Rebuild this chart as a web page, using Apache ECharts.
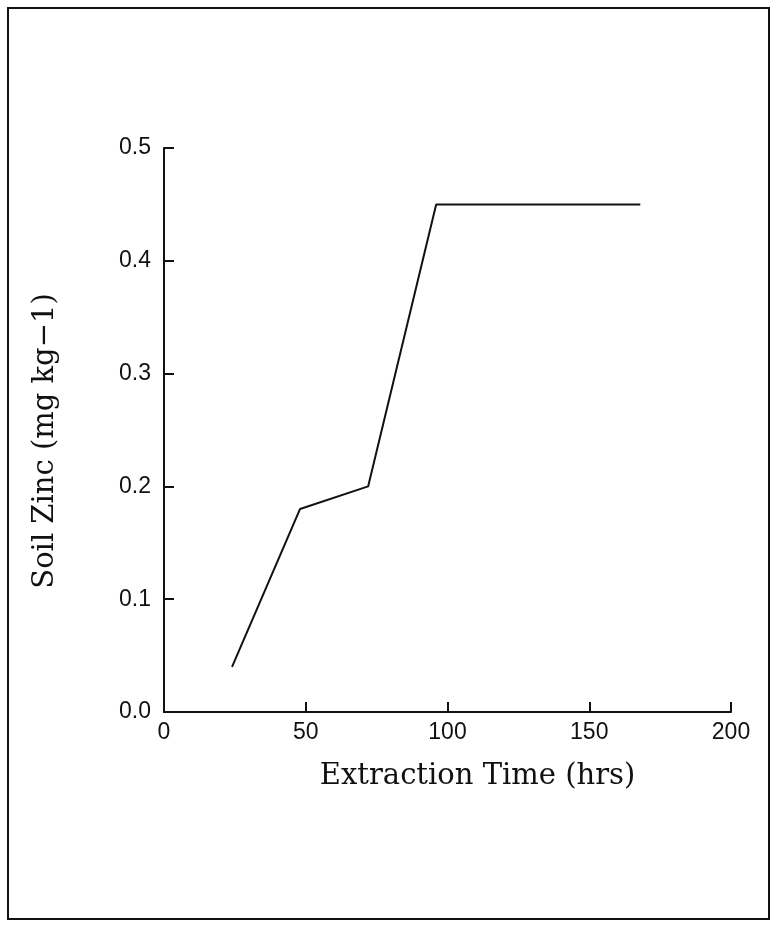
<!DOCTYPE html>
<html>
<head>
<meta charset="utf-8">
<script src="https://cdn.jsdelivr.net/npm/echarts@6/dist/echarts.min.js"></script>
<style>
  html, body { margin: 0; padding: 0; background: #fff; }
  #chart { width: 775px; height: 925px; }
</style>
</head>
<body>
<div id="chart"></div>
<script>
// data
var hours = [24, 48, 72, 96, 168];
var zinc = [0.04, 0.18, 0.2, 0.45, 0.45];

var points = [];
for (var i = 0; i < hours.length; i++) {
  points.push([hours[i], zinc[i]]);
}

var myChart = echarts.init(document.getElementById('chart'));

var option = {
  backgroundColor: '#fff',
  animation: false,
  // frame around the whole figure
  graphic: [{
    type: 'rect',
    shape: { x: 8, y: 8, width: 761, height: 911 },
    style: { fill: 'none', stroke: '#111', lineWidth: 2 }
  }],
  grid: {
    left: 164,
    right: 44,
    top: 148,
    bottom: 213
  },
  xAxis: {
    type: 'value',
    min: 0,
    max: 200,
    interval: 50,
    name: 'Extraction Time (hrs)',
    nameLocation: 'middle',
    nameGap: 50,
    // title sits a little right of the axis centre in the original
    nameTextStyle: { fontFamily: 'DejaVu Serif', fontSize: 29, color: '#111', padding: [0, 0, 0, 60] },
    axisLine: { lineStyle: { color: '#111', width: 2 } },
    axisTick: { inside: true, length: 10, lineStyle: { color: '#111', width: 2 } },
    axisLabel: { fontFamily: 'Liberation Sans', fontSize: 23, color: '#111', margin: 9 },
    splitLine: { show: false }
  },
  yAxis: {
    type: 'value',
    min: 0,
    max: 0.5,
    interval: 0.1,
    name: 'Soil Zinc (mg kg\u22121)',
    nameLocation: 'middle',
    nameGap: 104,
    nameTextStyle: { fontFamily: 'DejaVu Serif', fontSize: 29, color: '#111', padding: [0, 22, 0, 0] },
    axisLine: { lineStyle: { color: '#111', width: 2 } },
    axisTick: { inside: true, length: 10, lineStyle: { color: '#111', width: 2 } },
    axisLabel: {
      fontFamily: 'Liberation Sans', fontSize: 23, color: '#111', margin: 13,
      formatter: function (v) { return v.toFixed(1); }
    },
    splitLine: { show: false }
  },
  series: [{
    type: 'line',
    data: points,
    symbol: 'none',
    lineStyle: { color: '#111', width: 2 }
  }]
};

myChart.setOption(option);
</script>
</body>
</html>
